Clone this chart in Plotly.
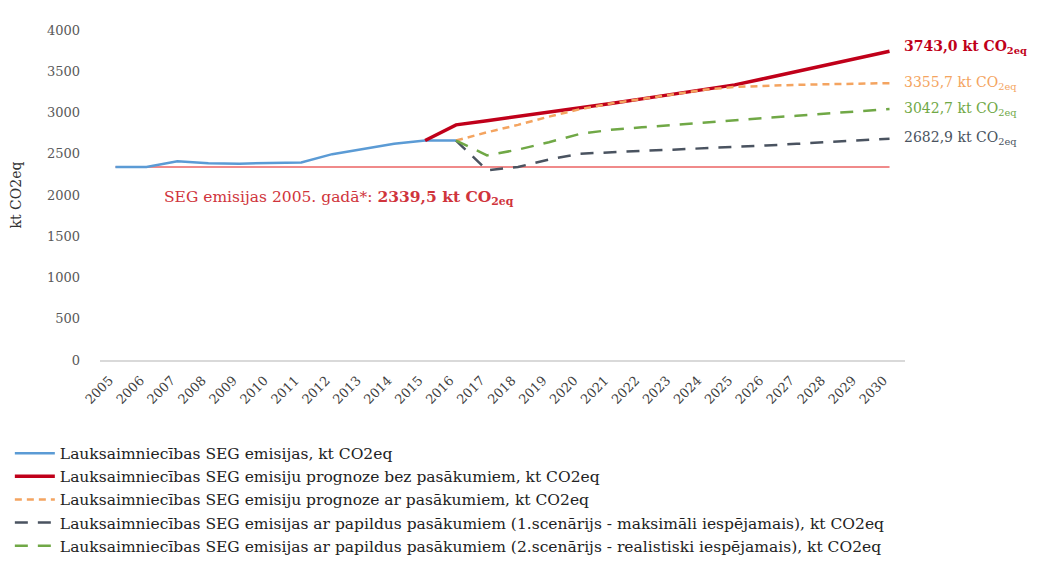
import plotly.graph_objects as go

years = [str(y) for y in range(2005, 2031)]

# Historical emissions 2005-2016
hist = [2339.5, 2340, 2410, 2385, 2380, 2390, 2395, 2495, 2560, 2620, 2660, 2660]
# Projection without measures (2015-2030)
wem_years = [str(y) for y in range(2015, 2031)]
no_measures = [2660, 2850, 2900, 2950, 3005, 3060, 3110, 3165, 3220, 3275, 3335, 3415, 3495, 3575, 3660, 3743.0]
# Projection with measures (2016-2030)
proj_years = [str(y) for y in range(2016, 2031)]
with_measures = [2660, 2760, 2850, 2950, 3040, 3110, 3165, 3220, 3275, 3310, 3325, 3335, 3343, 3350, 3355.7]
# Additional measures scenario 1 (max possible)
scen1 = [2660, 2300, 2340, 2430, 2500, 2520, 2535, 2550, 2565, 2585, 2600, 2620, 2640, 2660, 2682.9]
# Additional measures scenario 2 (realistic)
scen2 = [2660, 2480, 2550, 2640, 2740, 2790, 2820, 2850, 2880, 2910, 2935, 2960, 2990, 3015, 3042.7]

baseline_2005 = 2339.5

end_labels = ["3743,0", "3355,7", "3042,7", "2682,9"]

names = [
    "Lauksaimniecības SEG emisijas, kt CO2eq",
    "Lauksaimniecības SEG emisiju prognoze bez pasākumiem, kt CO2eq",
    "Lauksaimniecības SEG emisiju prognoze ar pasākumiem, kt CO2eq",
    "Lauksaimniecības SEG emisijas ar papildus pasākumiem (1.scenārijs - maksimāli iespējamais), kt CO2eq",
    "Lauksaimniecības SEG emisijas ar papildus pasākumiem (2.scenārijs - realistiski iespējamais), kt CO2eq",
]

C_BLUE = "#5b9bd5"
C_RED = "#c0001a"
C_ORANGE = "#f4a460"
C_GRAY = "#4a5360"
C_GREEN = "#70a846"
C_PINK = "#f08a8a"

FONT = "DejaVu Serif"

fig = go.Figure()

fig.add_trace(go.Scatter(x=years, y=[baseline_2005] * len(years), mode="lines",
                         line=dict(color=C_PINK, width=2), showlegend=False, hoverinfo="skip"))
fig.add_trace(go.Scatter(x=years[:len(hist)], y=hist, mode="lines", name=names[0],
                         line=dict(color=C_BLUE, width=2.5)))
fig.add_trace(go.Scatter(x=wem_years, y=no_measures, mode="lines", name=names[1],
                         line=dict(color=C_RED, width=3.5)))
fig.add_trace(go.Scatter(x=proj_years, y=with_measures, mode="lines", name=names[2],
                         line=dict(color=C_ORANGE, width=2.5, dash="7px,5px")))
fig.add_trace(go.Scatter(x=proj_years, y=scen1, mode="lines", name=names[3],
                         line=dict(color=C_GRAY, width=2.5, dash="13px,10px")))
fig.add_trace(go.Scatter(x=proj_years, y=scen2, mode="lines", name=names[4],
                         line=dict(color=C_GREEN, width=2.5, dash="13px,10px")))

last_idx = len(years) - 1
label_specs = [
    (no_measures[-1], end_labels[0], C_RED, True, 4),
    (with_measures[-1], end_labels[1], C_ORANGE, False, 0),
    (scen2[-1], end_labels[2], C_GREEN, False, 0),
    (scen1[-1], end_labels[3], C_GRAY, False, 1),
]
for val, txt, col, bold, ys in label_specs:
    t = f"{txt} kt CO<sub>2eq</sub>"
    if bold:
        t = f"<b>{t}</b>"
    fig.add_annotation(x=last_idx, y=val, xref="x", yref="y", text=t, showarrow=False,
                       xanchor="left", yanchor="middle", xshift=12, yshift=ys,
                       font=dict(family=FONT, size=14, color=col))

fig.add_annotation(x=0.077, y=baseline_2005, xref="paper", yref="y",
                   text="SEG emisijas 2005. gadā*: <b>2339,5 kt CO<sub>2eq</sub></b>",
                   showarrow=False, xanchor="left", yanchor="middle", yshift=-31,
                   font=dict(family=FONT, size=15.5, color="#d0343c"))

fig.update_layout(
    width=1037, height=570,
    margin=dict(l=92, r=140, t=22, b=218, autoexpand=False),
    paper_bgcolor="white", plot_bgcolor="white",
    font=dict(family=FONT, size=13, color="#333333"),
    showlegend=True,
    legend=dict(x=-0.112, y=-0.232, xanchor="left", yanchor="top",
                orientation="v", font=dict(family=FONT, size=15.5, color="#222222"),
                bgcolor="rgba(0,0,0,0)", tracegroupgap=0, itemwidth=40),
    xaxis=dict(type="category", tickangle=-45, showgrid=False, showline=True,
               linecolor="#d9d9d9", linewidth=1.5, ticks="", automargin=False,
               range=[-0.5, len(years) - 0.5], ticklabelstandoff=6, ticklabelshift=-6,
               tickfont=dict(family=FONT, size=13, color="#404040")),
    yaxis=dict(range=[0, 4000], dtick=500, showgrid=False, zeroline=False, showline=False,
               ticks="", automargin=False, ticklabelstandoff=19,
               tickfont=dict(family=FONT, size=13, color="#595959"),
               title=dict(text="kt CO2eq", font=dict(family=FONT, size=14, color="#333333"),
                          standoff=22)),
)

fig.write_html("out.html")
